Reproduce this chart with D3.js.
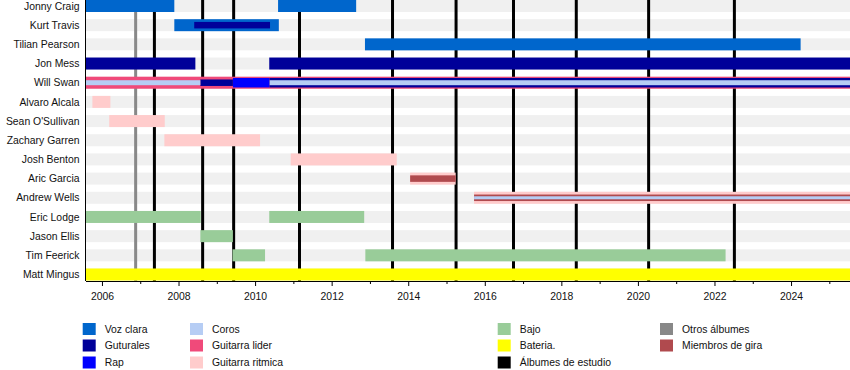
<!DOCTYPE html>
<html><head><meta charset="utf-8">
<script src="https://cdn.jsdelivr.net/npm/d3@7"></script>
<style>
html,body{margin:0;padding:0;background:#fff;}
svg{display:block;font-family:"Liberation Sans",Arial,sans-serif;}
</style></head>
<body><svg id="c" width="850" height="370"></svg>
<script>
const START = 2005.57, END = 2025.54;
const members = ["Jonny Craig","Kurt Travis","Tilian Pearson","Jon Mess","Will Swan","Alvaro Alcala","Sean O'Sullivan","Zachary Garren","Josh Benton","Aric Garcia","Andrew Wells","Eric Lodge","Jason Ellis","Tim Feerick","Matt Mingus"];
const roles = ["voz","guturales","rap","coros","lider","ritmica","bajo","bateria","estudio","otros","gira"];
const roleLabels = ["Voz clara","Guturales","Rap","Coros","Guitarra lider","Guitarra ritmica","Bajo","Bateria.","Álbumes de estudio","Otros álbumes","Miembros de gira"];
// periods: [member, role, start, end, layer]  (layer 0 = full bar, higher = thinner inner bar)
const periods = [
  ["Jonny Craig","voz",START,2007.89,0],
  ["Jonny Craig","voz",2010.60,2012.64,0],
  ["Kurt Travis","voz",2007.89,2010.62,0],
  ["Kurt Travis","guturales",2008.41,2010.39,2],
  ["Tilian Pearson","voz",2012.87,2024.25,0],
  ["Jon Mess","guturales",START,2008.44,0],
  ["Jon Mess","guturales",2010.37,END,0],
  ["Will Swan","lider",START,END,0],
  ["Will Swan","coros",START,2008.57,3],
  ["Will Swan","guturales",2008.57,2009.42,2],
  ["Will Swan","rap",2009.42,2010.38,1],
  ["Will Swan","guturales",2010.38,END,1],
  ["Will Swan","coros",2010.38,END,3],
  ["Alvaro Alcala","ritmica",2005.75,2006.22,0],
  ["Sean O'Sullivan","ritmica",2006.19,2007.64,0],
  ["Zachary Garren","ritmica",2007.63,2010.13,0],
  ["Josh Benton","ritmica",2010.93,2013.70,0],
  ["Aric Garcia","ritmica",2014.05,2015.24,0],
  ["Aric Garcia","gira",2014.05,2015.24,2],
  ["Andrew Wells","ritmica",2015.72,END,0],
  ["Andrew Wells","gira",2015.72,END,2],
  ["Andrew Wells","coros",2015.72,END,4],
  ["Eric Lodge","bajo",START,2008.58,0],
  ["Eric Lodge","bajo",2010.37,2012.85,0],
  ["Jason Ellis","bajo",2008.57,2009.42,0],
  ["Tim Feerick","bajo",2009.41,2010.26,0],
  ["Tim Feerick","bajo",2012.88,2022.29,0],
  ["Matt Mingus","bateria",START,END,0]
];
const studioAlbums = [2007.37,2008.63,2009.44,2011.16,2013.59,2015.25,2016.75,2018.39,2020.28,2022.52];
const otherAlbums = [2006.88];
const tickYears = [2006,2007,2008,2009,2010,2011,2012,2013,2014,2015,2016,2017,2018,2019,2020,2021,2022,2023,2024,2025];

const colors = {voz:"#0066cc",guturales:"#000099",rap:"#0000ff",coros:"#b6cdf4",lider:"#f04a7a",ritmica:"#ffcccc",bajo:"#99cc99",bateria:"#ffff00",estudio:"#000000",otros:"#888888",gira:"#b04a4e"};
const layerH = [12,9.5,6.5,5,3];
const FS = 10.4;

const svg = d3.select("#c");
const left = 85.5, right = 850, top0 = 6, bottomRow = 274.5, axisY = 281;
const x = d3.scaleLinear().domain([START, END]).range([left, right]);
const y = d3.scalePoint().domain(members).range([top0, bottomRow]);

// background bands
svg.append("g").selectAll("rect").data(members).join("rect")
  .attr("x", left).attr("width", right-left)
  .attr("y", d => y(d)-6).attr("height", 12).attr("fill", "#f0f0f0");

// album lines
const lines = svg.append("g");
lines.selectAll("line.o").data(otherAlbums).join("line").attr("class","o")
  .attr("x1", d=>x(d)).attr("x2", d=>x(d)).attr("y1",0).attr("y2",axisY)
  .attr("stroke", colors.otros).attr("stroke-width",3);
lines.selectAll("line.s").data(studioAlbums).join("line").attr("class","s")
  .attr("x1", d=>x(d)).attr("x2", d=>x(d)).attr("y1",0).attr("y2",axisY)
  .attr("stroke", colors.estudio).attr("stroke-width",3);

// bars (sorted by layer so thinner bars on top)
const sorted = periods.slice().sort((a,b)=>a[4]-b[4]);
svg.append("g").selectAll("rect").data(sorted).join("rect")
  .attr("x", d=>x(d[2])).attr("width", d=>x(d[3])-x(d[2]))
  .attr("y", d=>y(d[0])-layerH[d[4]]/2).attr("height", d=>layerH[d[4]])
  .attr("fill", d=>colors[d[1]]);

// member labels
svg.append("g").selectAll("text").data(members).join("text")
  .attr("x", 79.5).attr("y", d=>y(d)).attr("dy","0.35em")
  .attr("text-anchor","end").attr("font-size",FS).attr("fill","#111")
  .text(d=>d);

// axes
const ax = d3.axisBottom(x).tickValues(tickYears)
  .tickFormat(d => d%2===0 ? String(d) : "").tickSizeOuter(0);
const axG = svg.append("g").attr("transform",`translate(0,${axisY})`).call(ax);
axG.selectAll(".tick line").attr("y2", d => d%2===0 ? 5 : 3);
axG.selectAll("text").attr("font-size",FS).attr("font-family","Liberation Sans, Arial, sans-serif").attr("dy","0.95em").attr("fill","#111");
axG.select(".domain").attr("stroke","#000");
svg.append("line").attr("x1",left).attr("x2",left).attr("y1",0).attr("y2",axisY).attr("stroke","#000");

// legend
const legCols = [82.7, 190, 497.7, 660];
const legRowsY = [323, 339.5, 356.5];
const legendItems = [["voz",0,0],["guturales",0,1],["rap",0,2],["coros",1,0],["lider",1,1],["ritmica",1,2],["bajo",2,0],["bateria",2,1],["estudio",2,2],["otros",3,0],["gira",3,1]];
const lg = svg.append("g").selectAll("g").data(legendItems).join("g")
  .attr("transform", d=>`translate(${legCols[d[1]]},${legRowsY[d[2]]})`);
lg.append("rect").attr("width",13).attr("height",12).attr("fill",d=>colors[d[0]]);
lg.append("text").attr("x",22).attr("y",6).attr("dy","0.35em").attr("font-size",FS).attr("fill","#111")
  .text(d=>roleLabels[roles.indexOf(d[0])]);
</script></body></html>
